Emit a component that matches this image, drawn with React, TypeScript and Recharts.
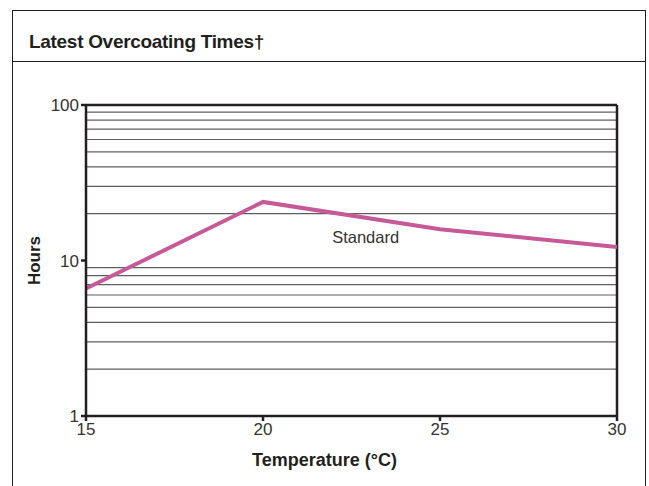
import { LineChart, Line, XAxis, YAxis, ReferenceLine, ReferenceDot } from 'recharts';

const temperatures = [15, 20, 25, 30];
const standardHours = [6.6, 23.8, 15.9, 12.2];
const hourTicks = [1, 10, 100];
const gridHours = [2, 3, 4, 5, 6, 7, 8, 9, 20, 30, 40, 50, 60, 70, 80, 90];

const data = temperatures.map((t, i) => ({ temp: t, standard: standardHours[i] }));

const font = '"Liberation Sans", Arial, sans-serif';
const ink = '#231f20';

const App = () => {
  return (
    <div style={{ position: 'fixed', left: 0, top: 0, width: 649, height: 486, background: '#fff', fontFamily: font }}>
      {/* outer frame with title bar */}
      <div
        style={{
          position: 'absolute',
          left: 12,
          top: 10,
          width: 634,
          height: 490,
          border: `1.5px solid ${ink}`,
          boxSizing: 'border-box',
        }}
      />
      <div style={{ position: 'absolute', left: 12, top: 61, width: 634, borderTop: `1.5px solid ${ink}` }} />
      <div
        style={{
          position: 'absolute',
          left: 29,
          top: 30,
          fontSize: 19,
          fontWeight: 'bold',
          color: ink,
          letterSpacing: -0.3,
          lineHeight: '24px',
        }}
      >
        Latest Overcoating Times†
      </div>

      <LineChart
        width={649}
        height={486}
        data={data}
        margin={{ top: 105, right: 32, bottom: 40, left: 36 }}
        style={{ position: 'absolute', left: 0, top: 0 }}
      >
        {gridHours.map((h) => (
          <ReferenceLine key={h} y={h} stroke="#5f5f5f" strokeWidth={1.2} ifOverflow="hidden" />
        ))}
        <XAxis
          dataKey="temp"
          type="number"
          domain={[15, 30]}
          ticks={temperatures}
          height={30}
          stroke={ink}
          strokeWidth={2.5}
          tickSize={5}
          tick={{ fontSize: 17, fill: '#333', fontFamily: font }}
          label={{
            value: 'Temperature (°C)',
            position: 'insideBottom',
            offset: -20,
            dx: -27,
            style: { fontSize: 18, fontWeight: 'bold', fill: ink, fontFamily: font },
          }}
        />
        <YAxis
          type="number"
          scale="log"
          domain={[1, 100]}
          ticks={hourTicks}
          allowDataOverflow
          width={50}
          stroke={ink}
          strokeWidth={2.5}
          tickSize={5}
          tick={{ fontSize: 17, fill: '#333', fontFamily: font }}
          label={{
            value: 'Hours',
            angle: -90,
            position: 'insideLeft',
            offset: -2,
            style: { fontSize: 17, fontWeight: 'bold', fill: ink, fontFamily: font, textAnchor: 'middle' },
          }}
        />
        <ReferenceLine y={100} stroke={ink} strokeWidth={2.5} />
        <ReferenceLine x={30} stroke={ink} strokeWidth={2.5} />
        <Line
          type="linear"
          dataKey="standard"
          stroke="#c65a97"
          strokeWidth={4}
          dot={false}
          activeDot={false}
          isAnimationActive={false}
        />
        <ReferenceDot
          x={22.9}
          y={14.2}
          r={0}
          fill="none"
          stroke="none"
          label={{ value: 'Standard', position: 'center', style: { fontSize: 16.5, fill: '#333', fontFamily: font } }}
        />
      </LineChart>
    </div>
  );
};

export default App;
